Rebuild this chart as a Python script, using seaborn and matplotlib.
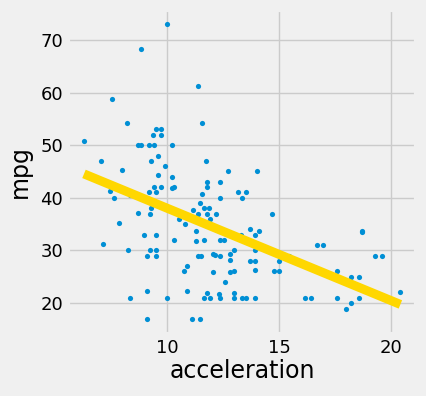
import matplotlib
matplotlib.use("Agg")
import matplotlib.pyplot as plt
import seaborn as sns
import pandas as pd

acceleration = [
    10.0, 8.85, 11.4, 7.56, 8.23, 11.58, 9.52, 9.74, 9.39, 9.74,
    6.3, 8.7, 8.85, 9.2, 9.4, 10.24, 7.06, 9.3, 11.75, 9.6,
    9.92, 8.0, 12.7, 9.6, 10.24, 7.47, 7.65, 8.27, 8.36, 9.21,
    9.52, 9.43, 9.74, 10.24, 10.33, 11.8, 11.8, 12.38, 11.58, 12.38,
    13.18, 8.7, 9.3, 9.26, 7.87, 10.55, 10.82, 11.17, 11.49, 11.67,
    11.85, 11.4, 11.8, 12.2, 11.93, 11.31, 11.31, 11.67, 12.38, 12.55,
    10.33, 8.99, 9.52, 7.15, 8.27, 9.26, 9.52, 9.12, 9.52, 11.4,
    11.5, 12.07, 12.16, 12.38, 12.8, 13.0, 12.8, 10.9, 10.77, 12.07,
    12.8, 13.0, 12.6, 9.12, 10.9, 11.8, 12.3, 13.0, 8.36, 10.0,
    11.67, 11.93, 12.38, 13.0, 9.12, 11.13, 11.49, 14.03, 13.54, 13.36,
    14.7, 13.72, 14.12, 13.3, 13.9, 13.9, 13.72, 13.9, 13.9, 14.75,
    14.97, 14.97, 15.42, 13.36, 13.54, 13.9, 16.13, 16.4, 16.7, 16.97,
    16.8, 17.56, 17.56, 18.18, 18.54, 17.56, 18.54, 18.18, 17.96, 18.67,
    18.67, 19.26, 19.6, 20.4,
]
mpg = [
    73.0, 68.2, 61.2, 58.7, 54.2, 54.2, 53.0, 53.0, 51.9, 51.9,
    50.7, 50.0, 50.0, 50.0, 50.0, 50.0, 46.9, 46.9, 46.9, 47.9,
    46.0, 45.2, 45.0, 44.3, 43.9, 41.2, 39.9, 41.0, 40.5, 41.0,
    41.0, 42.0, 42.0, 41.8, 42.0, 42.9, 42.0, 42.9, 40.7, 39.9,
    41.0, 37.1, 38.0, 36.9, 35.2, 35.9, 35.0, 37.6, 39.0, 38.0,
    38.0, 36.9, 36.9, 36.9, 35.9, 33.6, 31.7, 31.9, 31.9, 31.9,
    31.9, 32.9, 32.9, 31.2, 30.0, 30.0, 30.0, 28.9, 28.9, 28.9,
    28.9, 29.3, 29.1, 28.9, 29.3, 30.0, 28.1, 27.0, 26.0, 25.8,
    25.8, 26.0, 23.9, 22.2, 22.2, 21.8, 21.7, 21.8, 20.9, 20.9,
    20.9, 20.9, 20.9, 20.9, 16.9, 16.9, 16.9, 45.0, 41.0, 39.9,
    36.9, 34.0, 33.6, 32.9, 32.9, 30.0, 27.9, 27.9, 26.2, 26.0,
    26.0, 27.9, 28.9, 20.9, 20.9, 20.9, 20.9, 20.9, 31.0, 31.0,
    26.2, 26.0, 24.9, 24.9, 24.9, 20.9, 20.9, 19.9, 18.8, 33.6,
    33.4, 28.9, 28.9, 22.0,
]

df = pd.DataFrame({"acceleration": acceleration, "mpg": mpg})

plt.style.use("fivethirtyeight")
fig, ax = plt.subplots(figsize=(4.26, 3.96), dpi=100)
fig.patch.set_facecolor("#f0f0f0")
fig.subplots_adjust(left=0.16, right=0.977, top=0.976, bottom=0.157)

sns.regplot(data=df, x="acceleration", y="mpg", ci=None, ax=ax,
            scatter_kws={"s": 14, "color": "#008fd5", "alpha": 1, "linewidths": 0},
            line_kws={"color": "gold", "lw": 6.5})

ax.set_xticks([10, 15, 20])
ax.set_yticks([20, 30, 40, 50, 60, 70])
ax.tick_params(labelsize=13)
ax.set_xlabel("acceleration", fontsize=17, labelpad=2)
ax.set_ylabel("mpg", fontsize=17, labelpad=6)

fig.savefig("out.png", dpi=100, facecolor=fig.get_facecolor())
